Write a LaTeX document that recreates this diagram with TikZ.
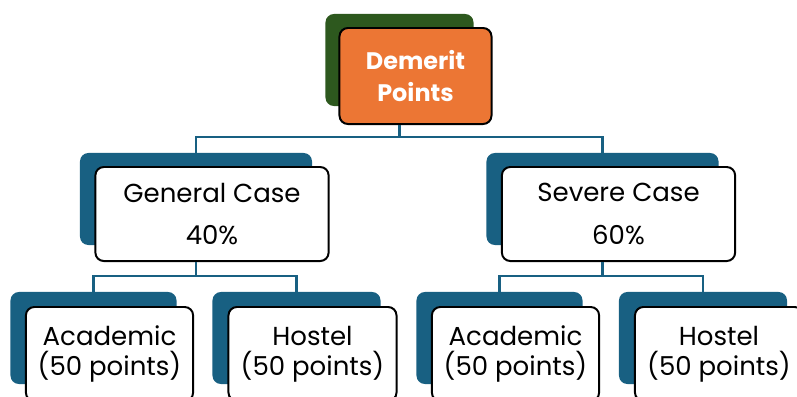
\documentclass[tikz,border=0pt]{standalone}
\usepackage{fontspec}
\setmainfont{Poppins}
\usetikzlibrary{positioning}
\definecolor{demgreen}{RGB}{45,88,30}
\definecolor{demorange}{RGB}{236,118,52}
\definecolor{demblue}{RGB}{24,96,130}

\tikzset{
  back/.style={rounded corners=6pt,inner sep=0pt,minimum height=2.3cm},
  front/.style={draw=black,line width=1.4pt,fill=white,rounded corners=6pt,inner sep=0pt,align=center,minimum height=2.35cm},
  link/.style={draw=demblue,line width=1.6pt},
  midfont/.style={font=\fontsize{18.5}{30}\selectfont},
  lowfont/.style={font=\fontsize{18.5}{21.5}\selectfont}
}

\begin{document}
\begin{tikzpicture}[x=0.025cm,y=-0.025cm]
\useasboundingbox (0,0) rectangle (797,396);
\clip (0,0) rectangle (797,396);
% top box
\node[back,fill=demgreen,minimum width=3.7cm] (top-b) at (399.5,60) {};
\node[front,fill=demorange,minimum width=3.8cm,minimum height=2.4cm,text=white,font=\fontsize{17}{23}\selectfont\bfseries] (top) at ([shift={(16,16)}]top-b.center) {Demerit\\Points};
% cases
\node[back,fill=demblue,minimum width=5.8cm] (gen-b) at (196,199) {};
\node[front,midfont,minimum width=5.83cm] (gen) at ([shift={(16,15)}]gen-b.center) {General Case\\40\%};
\node[back,fill=demblue,minimum width=5.8cm] (sev-b) at (602.5,199) {};
\node[front,midfont,minimum width=5.83cm] (sev) at ([shift={(16,15)}]sev-b.center) {Severe Case\\60\%};
% bottom row
\node[back,fill=demblue,minimum width=4.15cm] (acl-b) at (93.5,338) {};
\node[front,lowfont,minimum width=4.18cm] (acl) at ([shift={(16,16)}]acl-b.center) {Academic\\(50 points)};
\node[back,fill=demblue,minimum width=4.2cm] (hol-b) at (296.5,338) {};
\node[front,lowfont,minimum width=4.2cm] (hol) at ([shift={(16,16)}]hol-b.center) {Hostel\\(50 points)};
\node[back,fill=demblue,minimum width=4.15cm] (acr-b) at (499.5,338) {};
\node[front,lowfont,minimum width=4.18cm] (acr) at ([shift={(16,16)}]acr-b.center) {Academic\\(50 points)};
\node[back,fill=demblue,minimum width=4.2cm] (hor-b) at (703,338) {};
\node[front,lowfont,minimum width=4.2cm] (hor) at ([shift={(16,16)}]hor-b.center) {Hostel\\(50 points)};
% connectors
\coordinate (j0) at (0,137);
\coordinate (j1) at (0,276);
\draw[link] (top-b |- top.south) |- (gen-b |- j0) -- (gen-b.north);
\draw[link] (top-b |- top.south) |- (sev-b |- j0) -- (sev-b.north);
\draw[link] (gen-b |- gen.south) |- (acl-b |- j1) -- (acl-b.north);
\draw[link] (gen-b |- gen.south) |- (hol-b |- j1) -- (hol-b.north);
\draw[link] (sev-b |- sev.south) |- (acr-b |- j1) -- (acr-b.north);
\draw[link] (sev-b |- sev.south) |- (hor-b |- j1) -- (hor-b.north);
\end{tikzpicture}
\end{document}
